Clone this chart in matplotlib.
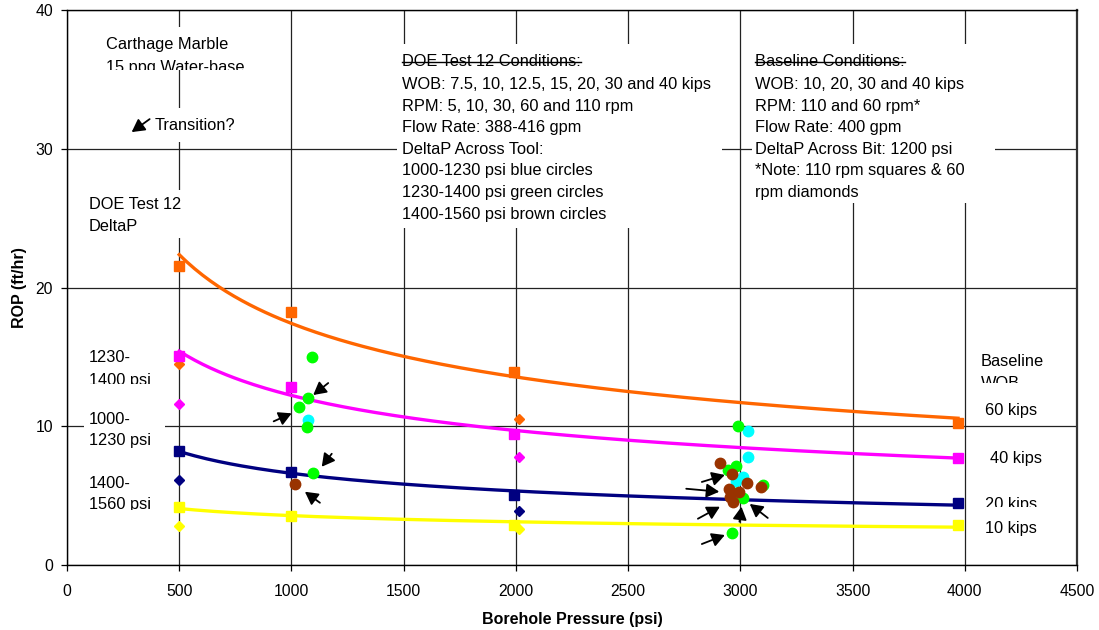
import numpy as np
import matplotlib
matplotlib.use("Agg")
import matplotlib.pyplot as plt
from matplotlib.patches import Rectangle
from matplotlib.lines import Line2D
from matplotlib.transforms import Bbox

plt.rcParams["font.family"] = ["Liberation Sans", "DejaVu Sans"]

# ---- Baseline runs (110 rpm squares, 60 rpm diamonds) ----
pressure_sq = [500, 1000, 1990, 3970]
rop_60kips_sq = [21.55, 18.2, 13.9, 10.26]
rop_40kips_sq = [15.06, 12.85, 9.42, 7.73]
rop_20kips_sq = [8.24, 6.73, 5.05, 4.45]
rop_10kips_sq = [4.2, 3.53, 2.88, 2.88]

pressure_dia = [500, 2015]
rop_60kips_dia = [14.49, 10.5]
rop_40kips_dia = [11.6, 7.8]
rop_20kips_dia = [6.13, 3.9]
rop_10kips_dia = [2.81, 2.57]

# ---- DOE Test 12 runs, grouped by DeltaP across tool ----
blue_p = [1072, 3035, 3032, 3010, 2980]
blue_rop = [10.45, 9.68, 7.81, 6.36, 6.08]
green_p = [1090, 1075, 1035, 1068, 1097, 2990, 2980, 2946, 3102, 2980, 3010, 2965]
green_rop = [15.01, 12.01, 11.41, 9.92, 6.65, 10.04, 7.14, 6.85, 5.77, 5.21, 4.81, 2.33]
brown_p = [1016, 2909, 2963, 3028, 3090, 2949, 2995, 2953, 2968]
brown_rop = [5.84, 7.33, 6.56, 5.93, 5.6, 5.46, 5.28, 4.92, 4.52]

# ---- Arrows: head (psi, ROP) and tail offset in pixels ----
arrow_heads = [(1097, 12.25), (1001, 10.93), (1135, 7.08), (1060, 5.28),
               (2931, 6.49), (2906, 5.28), (2909, 4.2), (3005, 4.2),
               (3042, 4.4), (2931, 2.16), (288, 31.2)]
arrow_tails = [(15, 12), (-18, -8), (10, 13), (15, -11),
               (-23, -7), (-33, 3), (-22, -12), (-2, -15),
               (18, -14), (-23, -9), (18, 13)]

W, H = 1099, 630
fig = plt.figure(figsize=(W / 100, H / 100), dpi=100)
ax = fig.add_axes([67 / W, 1 - 565 / H, (1077 - 67) / W, (565 - 10) / H])

ax.set_xlim(0, 4500)
ax.set_ylim(0, 40)
ax.set_xticks(np.arange(0, 4501, 500))
ax.set_yticks(np.arange(0, 41, 10))
ax.grid(True, color="#222222", linewidth=0.9)
ax.set_axisbelow(True)
for side in ["left", "bottom", "top"]:
    ax.spines[side].set_color("black")
    ax.spines[side].set_linewidth(1.0)
ax.spines["right"].set_color("#333333")
ax.spines["right"].set_linewidth(1.6)
ax.tick_params(axis="both", direction="out", length=4, width=0.9,
               labelsize=11.3, colors="black", pad=6)
ax.tick_params(axis="x", pad=10)
ax.set_xlabel("Borehole Pressure (psi)", fontsize=11.5, fontweight="bold", labelpad=9)
ax.set_ylabel("ROP (ft/hr)", fontsize=11.5, fontweight="bold", labelpad=6)

colors = {"60": "#FF6600", "40": "#FF00FF", "20": "#000080", "10": "#FFFF00"}
series = [("60", rop_60kips_sq, rop_60kips_dia),
          ("40", rop_40kips_sq, rop_40kips_dia),
          ("20", rop_20kips_sq, rop_20kips_dia),
          ("10", rop_10kips_sq, rop_10kips_dia)]

for key, sq, dia in series:
    c = colors[key]
    # power-law trend line fitted to the 110 rpm squares
    b, lna = np.polyfit(np.log(pressure_sq), np.log(sq), 1)
    xs = np.linspace(min(pressure_sq), max(pressure_sq), 200)
    ax.plot(xs, np.exp(lna) * xs ** b, color=c, lw=2.4, zorder=3)
    ax.plot(pressure_sq, sq, ls="none", marker="s", ms=7, color=c, zorder=4)
    ax.plot(pressure_dia, dia, ls="none", marker="D", ms=5, color=c, zorder=4)

ax.plot(blue_p, blue_rop, ls="none", marker="o", ms=7.5, color="#00FFFF", zorder=5)
ax.plot(green_p, green_rop, ls="none", marker="o", ms=7.5, color="#00FF00", zorder=5)
ax.plot(brown_p, brown_rop, ls="none", marker="o", ms=7.5, color="#993300", zorder=6)

for (hx, hy), (dx, dy) in zip(arrow_heads, arrow_tails):
    ax.annotate("", xy=(hx, hy), xycoords="data",
                xytext=(dx, dy), textcoords="offset pixels",
                arrowprops=dict(arrowstyle="-|>,head_length=0.55,head_width=0.3",
                                color="black", lw=1.3, shrinkA=0, shrinkB=0,
                                mutation_scale=14),
                zorder=7)


def px_to_fig(x, y):
    return x / W, 1 - y / H


def label_box(x0, y0, x1, y1, lines, tx, ys, size=11.8):
    """White text box spanning pixel rectangle (x0,y0)-(x1,y1); text clipped to it."""
    fx0, fy1 = px_to_fig(x0, y0)
    fx1, fy0 = px_to_fig(x1, y1)
    rect = Rectangle((fx0, fy0), fx1 - fx0, fy1 - fy0, transform=fig.transFigure,
                     facecolor="white", edgecolor="none", zorder=1.5)
    ax.add_patch(rect)
    clip = Bbox([[x0, H - y1], [x1, H - y0]])
    texts = []
    for s, yy in zip(lines, ys):
        fx, fy = px_to_fig(tx, yy)
        t = ax.text(fx, fy, s, transform=fig.transFigure, fontsize=size,
                    ha="left", va="center", zorder=8, color="black")
        t.set_clip_box(clip)
        t.set_clip_on(True)
        texts.append(t)
    return texts


label_box(100, 27, 285, 70, ["Carthage Marble", "15 ppg Water-base"], 106, [45, 67.5])
label_box(150, 108, 255, 142, ["Transition?"], 155, [125])
label_box(84, 190, 200, 238, ["DOE Test 12", "DeltaP"], 89, [205, 226])
label_box(84, 348, 165, 384, ["1230-", "1400 psi"], 89, [358, 380])
label_box(84, 410, 165, 452, ["1000-", "1230 psi"], 89, [420, 441])
label_box(84, 473, 165, 510, ["1400-", "1560 psi"], 89, [483, 505])
label_box(975, 350, 1055, 383, ["Baseline", "WOB"], 981, [362, 384])
label_box(980, 400, 1060, 422, ["60 kips"], 985, [411])
label_box(985, 448, 1065, 470, ["40 kips"], 990, [459])
label_box(980, 492, 1060, 507, ["20 kips"], 985, [504])
label_box(980, 517, 1060, 539, ["10 kips"], 985, [528])

doe_lines = ["DOE Test 12 Conditions:",
             "WOB: 7.5, 10, 12.5, 15, 20, 30 and 40 kips",
             "RPM: 5, 10, 30, 60 and 110 rpm",
             "Flow Rate: 388-416 gpm",
             "DeltaP Across Tool:",
             "1000-1230 psi blue circles",
             "1230-1400 psi green circles",
             "1400-1560 psi brown circles"]
base_lines = ["Baseline Conditions:",
              "WOB: 10, 20, 30 and 40 kips",
              "RPM: 110 and 60 rpm*",
              "Flow Rate: 400 gpm",
              "DeltaP Across Bit: 1200 psi",
              "*Note: 110 rpm squares & 60",
              "rpm diamonds"]
line_y = [62, 84, 106, 127.5, 149, 171, 193, 214]
doe_texts = label_box(397, 44, 722, 228, doe_lines, 402, line_y)
base_texts = label_box(752, 44, 995, 203, base_lines, 755, line_y[:7])

# strike line across the two box headings
fig.canvas.draw()
renderer = fig.canvas.get_renderer()
for t in (doe_texts[0], base_texts[0]):
    bb = t.get_window_extent(renderer)
    ys = bb.y0 + 0.48 * bb.height
    ln = Line2D([bb.x0 / W, bb.x1 / W], [ys / H, ys / H], transform=fig.transFigure,
                color="black", lw=1.0, zorder=9)
    fig.add_artist(ln)

fig.savefig("out.png", dpi=100)
